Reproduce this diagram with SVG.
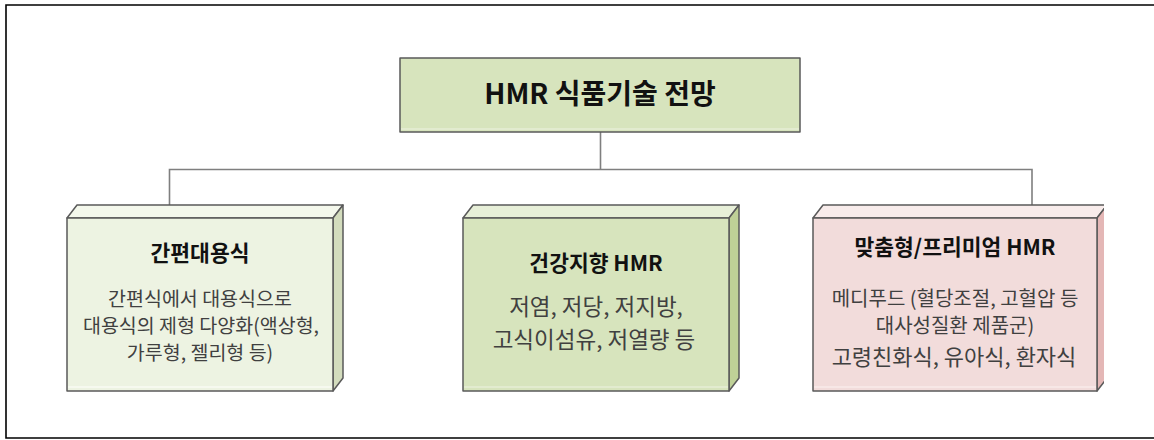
<svg xmlns="http://www.w3.org/2000/svg" width="1154" height="440" viewBox="0 0 1154 440">
  <style>
    .edge { fill: none; stroke: #7f7f7f; stroke-width: 1.6; }
    .box { stroke: #5a5a5a; stroke-width: 1.5; stroke-linejoin: round; }
    .t { font-family: "Noto Sans CJK KR", "Noto Sans", sans-serif; text-anchor: middle; }
    .title { font-weight: bold; fill: #111111; font-size: 21.5px; }
    .body { fill: #404040; }
  </style>
  <defs>
    <clipPath id="clip"><rect x="0" y="0" width="1104" height="440"/></clipPath>
  </defs>
  <rect x="0" y="0" width="1154" height="440" fill="#ffffff"/>
  <path d="M1154 5 H6 V438 H1154" fill="none" stroke="#000000" stroke-width="1.6"/>

  <g id="connectors">
    <path class="edge" d="M600.5 132 V169.5"/>
    <path class="edge" d="M169.5 205 V169.5 H1032 V205"/>
  </g>

  <g id="root">
    <rect class="box" x="400" y="58" width="400" height="74" fill="#d7e4bd"/>
    <line x1="401" y1="129" x2="799" y2="129" stroke="#e6eed6" stroke-width="1.5"/>
    <text class="t" x="600" y="104" font-size="28" font-weight="bold" fill="#111111">HMR 식품기술 전망</text>
  </g>

  <g id="node1">
    <polygon class="box" points="67,218 77,205 343,205 333,218" fill="#f4f8ec"/>
    <polygon class="box" points="333,218 343,205 343,378 333,391" fill="#d3dcbd"/>
    <rect class="box" x="67" y="218" width="266" height="173" fill="#edf3e2"/>
    <line x1="68" y1="387" x2="332" y2="387" stroke="#f8fbf3" stroke-width="1.5"/>
    <text class="t title" x="200" y="261">간편대용식</text>
    <text class="t body" x="200" y="306" font-size="19.5">간편식에서 대용식으로</text>
    <text class="t body" x="201" y="333" font-size="19.5">대용식의 제형 다양화(액상형,</text>
    <text class="t body" x="200" y="360" font-size="19.5">가루형, 젤리형 등)</text>
  </g>

  <g id="node2">
    <polygon class="box" points="463,218 473,205 739,205 729,218" fill="#e7efd8"/>
    <polygon class="box" points="729,218 739,205 739,378 729,391" fill="#bfd197"/>
    <rect class="box" x="463" y="218" width="266" height="173" fill="#d7e4bd"/>
    <line x1="464" y1="387" x2="728" y2="387" stroke="#e6eed6" stroke-width="1.5"/>
    <text class="t title" x="596" y="271">건강지향 HMR</text>
    <text class="t body" x="596" y="315" font-size="22.5">저염, 저당, 저지방,</text>
    <text class="t body" x="594" y="348" font-size="22.5">고식이섬유, 저열량 등</text>
  </g>

  <g id="node3">
    <g clip-path="url(#clip)">
      <polygon class="box" points="813,218 823,205 1107,205 1097,218" fill="#f8eceb"/>
      <polygon class="box" points="1097,218 1107,205 1107,378 1097,391" fill="#e4b7b6"/>
    </g>
    <rect class="box" x="813" y="218" width="284" height="173" fill="#f2dcdb"/>
    <line x1="814" y1="387" x2="1096" y2="387" stroke="#f8ebea" stroke-width="1.5"/>
    <text class="t title" x="955" y="255" font-size="22">맞춤형/프리미엄 HMR</text>
    <text class="t body" x="955" y="306" font-size="20">메디푸드 (혈당조절, 고혈압 등</text>
    <text class="t body" x="955" y="333" font-size="20">대사성질환 제품군)</text>
    <text class="t body" x="954" y="365" font-size="22">고령친화식, 유아식, 환자식</text>
  </g>
</svg>
